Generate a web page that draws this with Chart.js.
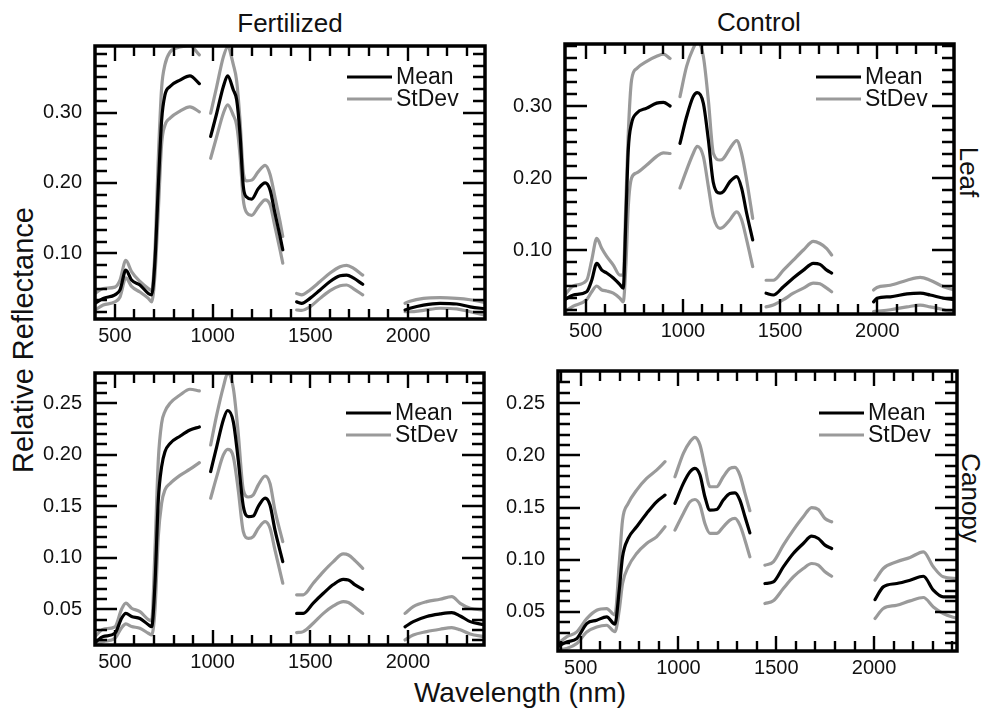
<!DOCTYPE html>
<html>
<head>
<meta charset="utf-8">
<title>Relative reflectance spectra</title>
<script src="https://cdn.jsdelivr.net/npm/chart.js@4.4.1/dist/chart.umd.min.js"></script>
<style>
  html, body { margin: 0; padding: 0; background: #fff; }
  body { width: 985px; height: 709px; position: relative; overflow: hidden;
         font-family: 'Liberation Sans', Arial, sans-serif; color: #111; }
  canvas { position: absolute; }
  .lbl { position: absolute; white-space: nowrap; line-height: 1; transform: translate(-50%, -50%); }
</style>
</head>
<body>
<div class="lbl" style="left:290px; top:23px; font-size:26px;">Fertilized</div>
<div class="lbl" style="left:759px; top:22px; font-size:26px;">Control</div>
<div class="lbl" style="left:969px; top:172px; font-size:26px; transform:translate(-50%,-50%) rotate(90deg);">Leaf</div>
<div class="lbl" style="left:971px; top:498px; font-size:26px; transform:translate(-50%,-50%) rotate(90deg);">Canopy</div>
<div class="lbl" style="left:23px; top:340px; font-size:29px; transform:translate(-50%,-50%) rotate(-90deg);">Relative Reflectance</div>
<div class="lbl" style="left:520px; top:693px; font-size:28px;">Wavelength (nm)</div>

<script>
// ---- tick labels ----
const xMajorTicks = [500, 1000, 1500, 2000];
const leafYTicks = [0.10, 0.20, 0.30];
const canopyYTicks = [0.05, 0.10, 0.15, 0.20, 0.25];

// ---- Fertilized / Leaf (null separates the measured bands) ----
const fertLeafWl = [398, 440, 500, 526, 556, 585, 628, 671, 688, 705, 722, 739, 756, 782, 833, 884, 932, null,
  990, 1021, 1055, 1077, 1106, 1123, 1140, 1157, 1174, 1200, 1234, 1269, 1294, 1319, 1345, 1359, null,
  1430, 1456, 1498, 1550, 1601, 1652, 1686, 1720, 1768, null,
  1985, 2010, 2079, 2164, 2249, 2318, 2400];
const fertLeafMean = [0.029, 0.036, 0.041, 0.048, 0.076, 0.062, 0.055, 0.043, 0.041, 0.090, 0.195, 0.289, 0.325, 0.337, 0.346, 0.352, 0.341, null,
  0.266, 0.299, 0.337, 0.352, 0.332, 0.318, 0.270, 0.195, 0.180, 0.177, 0.192, 0.200, 0.190, 0.157, 0.124, 0.105, null,
  0.031, 0.029, 0.036, 0.048, 0.060, 0.068, 0.069, 0.065, 0.056, null,
  0.0195, 0.022, 0.0265, 0.029, 0.028, 0.024, 0.021];
const fertLeafUpper = [0.043, 0.050, 0.052, 0.062, 0.090, 0.074, 0.060, 0.050, 0.047, 0.105, 0.235, 0.335, 0.368, 0.386, 0.393, 0.395, 0.382, null,
  0.299, 0.337, 0.379, 0.393, 0.368, 0.345, 0.290, 0.215, 0.203, 0.204, 0.216, 0.225, 0.212, 0.180, 0.145, 0.124, null,
  0.043, 0.041, 0.048, 0.060, 0.072, 0.081, 0.083, 0.079, 0.069, null,
  0.029, 0.032, 0.036, 0.037, 0.036, 0.034, 0.030];
const fertLeafLower = [0.0195, 0.0265, 0.031, 0.038, 0.065, 0.053, 0.045, 0.036, 0.031, 0.070, 0.160, 0.255, 0.282, 0.292, 0.302, 0.308, 0.301, null,
  0.235, 0.266, 0.299, 0.311, 0.296, 0.282, 0.240, 0.176, 0.158, 0.154, 0.166, 0.176, 0.169, 0.138, 0.105, 0.086, null,
  0.0195, 0.019, 0.024, 0.036, 0.047, 0.054, 0.055, 0.050, 0.041, null,
  0.017, 0.017, 0.019, 0.022, 0.021, 0.017, 0.012];

// ---- Control / Leaf ----
const ctrlLeafWl = [393, 436, 505, 531, 557, 583, 608, 642, 676, 693, 707, 719, 736, 762, 814, 865, 900, 934, null,
  985, 1019, 1053, 1074, 1105, 1131, 1157, 1191, 1208, 1242, 1277, 1302, 1328, 1359, null,
  1428, 1465, 1517, 1568, 1620, 1671, 1705, 1740, 1765, null,
  1981, 1998, 2067, 2153, 2221, 2272, 2341, 2395];
const ctrlLeafMean = [0.031, 0.0375, 0.042, 0.058, 0.0815, 0.072, 0.068, 0.061, 0.052, 0.047, 0.146, 0.239, 0.276, 0.290, 0.297, 0.304, 0.305, 0.300, null,
  0.248, 0.285, 0.313, 0.3185, 0.304, 0.253, 0.193, 0.179, 0.181, 0.195, 0.202, 0.186, 0.151, 0.114, null,
  0.040, 0.0375, 0.049, 0.061, 0.072, 0.0815, 0.080, 0.072, 0.068, null,
  0.028, 0.033, 0.035, 0.039, 0.040, 0.0375, 0.033, 0.031];
const ctrlLeafUpper = [0.0375, 0.050, 0.058, 0.086, 0.116, 0.102, 0.091, 0.079, 0.065, 0.065, 0.169, 0.262, 0.336, 0.352, 0.362, 0.369, 0.372, 0.366, null,
  0.313, 0.355, 0.380, 0.389, 0.369, 0.308, 0.234, 0.225, 0.227, 0.241, 0.252, 0.234, 0.197, 0.144, null,
  0.058, 0.058, 0.072, 0.086, 0.100, 0.112, 0.109, 0.102, 0.093, null,
  0.0445, 0.048, 0.051, 0.058, 0.062, 0.058, 0.049, 0.0445];
const ctrlLeafLower = [0.0145, 0.022, 0.031, 0.042, 0.050, 0.0445, 0.043, 0.040, 0.033, 0.028, 0.080, 0.160, 0.200, 0.207, 0.218, 0.230, 0.235, 0.234, null,
  0.186, 0.211, 0.234, 0.244, 0.230, 0.188, 0.146, 0.130, 0.132, 0.142, 0.153, 0.142, 0.114, 0.077, null,
  0.021, 0.0235, 0.031, 0.040, 0.047, 0.054, 0.053, 0.047, 0.042, null,
  0.0145, 0.015, 0.017, 0.021, 0.0235, 0.021, 0.017, 0.012];

// ---- Fertilized / Canopy ----
const fertCanopyWl = [398, 440, 500, 534, 556, 585, 628, 671, 688, 705, 722, 739, 756, 782, 833, 884, 932, null,
  990, 1021, 1055, 1077, 1106, 1131, 1157, 1183, 1208, 1234, 1269, 1294, 1319, 1359, null,
  1430, 1464, 1515, 1567, 1618, 1669, 1695, 1729, 1768, null,
  1985, 2027, 2096, 2164, 2224, 2267, 2318, 2390];
const fertCanopyMean = [0.0176, 0.0235, 0.0267, 0.0413, 0.046, 0.043, 0.041, 0.035, 0.033, 0.075, 0.156, 0.1885, 0.203, 0.211, 0.218, 0.224, 0.227, null,
  0.1837, 0.208, 0.234, 0.243, 0.232, 0.195, 0.150, 0.140, 0.1406, 0.150, 0.158, 0.151, 0.127, 0.0963, null,
  0.046, 0.046, 0.056, 0.0655, 0.074, 0.079, 0.0785, 0.0736, 0.0694, null,
  0.033, 0.038, 0.043, 0.0455, 0.0468, 0.0435, 0.038, 0.035];
const fertCanopyUpper = [0.0235, 0.0306, 0.033, 0.050, 0.056, 0.051, 0.0477, 0.040, 0.039, 0.108, 0.195, 0.2306, 0.242, 0.250, 0.258, 0.2636, 0.262, null,
  0.2095, 0.2387, 0.266, 0.279, 0.2646, 0.221, 0.166, 0.159, 0.161, 0.1707, 0.1794, 0.172, 0.146, 0.1157, null,
  0.064, 0.064, 0.0753, 0.0866, 0.0963, 0.1037, 0.1027, 0.0972, 0.0898, null,
  0.046, 0.0526, 0.0574, 0.0597, 0.0623, 0.0558, 0.051, 0.0494];
const fertCanopyLower = [0.0154, 0.0186, 0.0218, 0.032, 0.0358, 0.0333, 0.0316, 0.0267, 0.025, 0.0494, 0.1206, 0.153, 0.1659, 0.172, 0.180, 0.186, 0.1924, null,
  0.1578, 0.1788, 0.1998, 0.2053, 0.198, 0.166, 0.1254, 0.1189, 0.1206, 0.1286, 0.135, 0.1286, 0.1076, 0.0753, null,
  0.0273, 0.0283, 0.0364, 0.046, 0.0532, 0.0574, 0.0565, 0.052, 0.046, null,
  0.0202, 0.025, 0.0283, 0.0306, 0.0322, 0.030, 0.026, 0.0235];

// ---- Control / Canopy ----
const ctrlCanopyWl = [384, 428, 480, 531, 582, 633, 675, 697, 714, 743, 786, 837, 888, 931, null,
  982, 1025, 1059, 1084, 1110, 1135, 1161, 1195, 1229, 1263, 1289, 1314, 1340, 1365, null,
  1442, 1485, 1536, 1587, 1638, 1681, 1715, 1749, 1783, null,
  2005, 2047, 2116, 2184, 2252, 2303, 2354, 2424];
const ctrlCanopyMean = [0.017, 0.0212, 0.0244, 0.0388, 0.042, 0.0452, 0.0382, 0.0708, 0.1028, 0.1204, 0.1316, 0.1444, 0.1556, 0.162, null,
  0.154, 0.1732, 0.1844, 0.1876, 0.1812, 0.1604, 0.1476, 0.1482, 0.1572, 0.1636, 0.1642, 0.1572, 0.1412, 0.1258, null,
  0.0772, 0.0788, 0.0932, 0.106, 0.1156, 0.1226, 0.1204, 0.114, 0.1108, null,
  0.0618, 0.074, 0.0772, 0.0804, 0.0842, 0.0708, 0.0644, 0.0644];
const ctrlCanopyUpper = [0.0196, 0.026, 0.0308, 0.0436, 0.0516, 0.0532, 0.047, 0.0964, 0.138, 0.154, 0.1668, 0.178, 0.186, 0.194, null,
  0.1796, 0.202, 0.2132, 0.2174, 0.21, 0.1892, 0.17, 0.17, 0.1796, 0.1876, 0.1886, 0.1812, 0.1636, 0.147, null,
  0.0948, 0.098, 0.114, 0.1284, 0.1412, 0.150, 0.1482, 0.1396, 0.1364, null,
  0.0804, 0.0916, 0.098, 0.1022, 0.1076, 0.0932, 0.0836, 0.082];
const ctrlCanopyLower = [0.0132, 0.0148, 0.0196, 0.0308, 0.0356, 0.0372, 0.031, 0.0516, 0.0772, 0.0932, 0.106, 0.1156, 0.122, 0.1316, null,
  0.1284, 0.1444, 0.1556, 0.1578, 0.1524, 0.1348, 0.1252, 0.1252, 0.1316, 0.138, 0.1396, 0.1332, 0.1188, 0.1028, null,
  0.058, 0.0606, 0.0724, 0.0836, 0.0916, 0.0964, 0.0948, 0.0884, 0.0842, null,
  0.0436, 0.0532, 0.0564, 0.0606, 0.0638, 0.0548, 0.0484, 0.0436];

// ---- panel layout (page pixels of each plot frame) and axis ranges ----
const panels = [
  { area: [95, 46, 485, 319],  xRange: [398, 2394],   yRange: [0.0067, 0.3945], yTicks: leafYTicks,   yMinorStep: 0.1 / 6, legendTop: 31,
    wl: fertLeafWl, mean: fertLeafMean, upper: fertLeafUpper, lower: fertLeafLower },
  { area: [565, 44, 954, 314], xRange: [393.5, 2394.6], yRange: [0.0111, 0.3861], yTicks: leafYTicks, yMinorStep: 0.1 / 6, legendTop: 33,
    wl: ctrlLeafWl, mean: ctrlLeafMean, upper: ctrlLeafUpper, lower: ctrlLeafLower },
  { area: [95, 373, 484, 645], xRange: [398, 2389],   yRange: [0.0153, 0.2794], yTicks: canopyYTicks, yMinorStep: 0.01, legendTop: 40,
    wl: fertCanopyWl, mean: fertCanopyMean, upper: fertCanopyUpper, lower: fertCanopyLower },
  { area: [558, 371, 957, 651], xRange: [384, 2424],  yRange: [0.0125, 0.2810], yTicks: canopyYTicks, yMinorStep: 0.01, legendTop: 42,
    wl: ctrlCanopyWl, mean: ctrlCanopyMean, upper: ctrlCanopyUpper, lower: ctrlCanopyLower }
];

const MEAN_COLOR = '#000000';
const SD_COLOR = '#9a9a9a';
const FONT = "'Liberation Sans', Arial, sans-serif";
Chart.defaults.font.family = FONT;
Chart.defaults.color = '#111';

// evenly spaced minor tick positions between the axis limits
function minorTicks(min, max, step) {
  const out = [];
  const start = Math.ceil(min / step - 1e-6);
  for (let k = start; k * step <= max + 1e-9; k++) out.push(k * step);
  return out;
}

// boxed frame with inward ticks on all four sides, plus the in-plot legend
const frameTicks = {
  id: 'frameTicks',
  afterDatasetsDraw(chart, args, opts) {
    const { ctx, chartArea: a } = chart;
    const xs = chart.scales.x, ys = chart.scales.y;
    ctx.save();
    ctx.strokeStyle = '#000';
    ctx.lineWidth = 2.4;
    ctx.lineCap = 'butt';
    ctx.beginPath();
    const xTicks = opts.xMinor.map(v => [v, 10]).concat(xMajorTicks.map(v => [v, 15]));
    xTicks.forEach(([v, len]) => {
      const p = Math.round(xs.getPixelForValue(v));
      if (p <= a.left + 1 || p >= a.right - 1) return;
      ctx.moveTo(p, a.bottom); ctx.lineTo(p, a.bottom - len);
      ctx.moveTo(p, a.top); ctx.lineTo(p, a.top + len);
    });
    const yTicks = opts.yMinor.map(v => [v, 12]).concat(opts.yMajor.map(v => [v, 22]));
    yTicks.forEach(([v, len]) => {
      const p = Math.round(ys.getPixelForValue(v));
      if (p <= a.top + 1 || p >= a.bottom - 1) return;
      ctx.moveTo(a.left, p); ctx.lineTo(a.left + len, p);
      ctx.moveTo(a.right, p); ctx.lineTo(a.right - len, p);
    });
    ctx.stroke();
    ctx.lineWidth = 3.5;
    ctx.strokeRect(a.left, a.top, a.right - a.left, a.bottom - a.top);

    // legend: one entry per series that is flagged for it
    const entries = chart.data.datasets.filter(d => d.showInLegend);
    ctx.font = '23px ' + FONT;
    ctx.textBaseline = 'middle';
    ctx.textAlign = 'left';
    entries.forEach((d, i) => {
      const yy = a.top + opts.legendTop + i * 22;
      ctx.strokeStyle = d.borderColor;
      ctx.lineWidth = 3;
      ctx.beginPath();
      ctx.moveTo(a.right - 138, yy);
      ctx.lineTo(a.right - 93, yy);
      ctx.stroke();
      ctx.fillStyle = '#111';
      ctx.fillText(d.label, a.right - 89, yy + 1);
    });
    ctx.restore();
  }
};

const OUT = { l: 75, t: 40, r: 15, b: 40 };
const Y_AXIS_W = 58, X_AXIS_H = 30;

panels.forEach(p => {
  const [L, T, R, B] = p.area;
  const w = R - L + OUT.l + OUT.r;
  const h = B - T + OUT.t + OUT.b;
  const cv = document.createElement('canvas');
  cv.width = w; cv.height = h;
  cv.style.left = (L - OUT.l) + 'px';
  cv.style.top = (T - OUT.t) + 'px';
  cv.style.width = w + 'px';
  cv.style.height = h + 'px';
  document.body.appendChild(cv);

  const series = (vals) => p.wl.map((x, i) => ({ x: x, y: vals[i] }));
  const lineStyle = { pointRadius: 0, borderWidth: 3.2, cubicInterpolationMode: 'monotone',
                      borderJoinStyle: 'round', borderCapStyle: 'round', spanGaps: false, fill: false };

  new Chart(cv, {
    type: 'line',
    data: {
      datasets: [
        Object.assign({ label: 'Mean', data: series(p.mean), borderColor: MEAN_COLOR, showInLegend: true }, lineStyle),
        Object.assign({ label: 'StDev', data: series(p.upper), borderColor: SD_COLOR, showInLegend: true }, lineStyle),
        Object.assign({ label: 'StDev', data: series(p.lower), borderColor: SD_COLOR, showInLegend: false }, lineStyle)
      ]
    },
    options: {
      responsive: false,
      animation: false,
      devicePixelRatio: 1,
      events: [],
      layout: { padding: { left: OUT.l - Y_AXIS_W, top: OUT.t, right: OUT.r, bottom: OUT.b - X_AXIS_H } },
      plugins: {
        legend: { display: false },
        tooltip: { enabled: false },
        frameTicks: {
          xMinor: minorTicks(p.xRange[0], p.xRange[1], 100).filter(v => v % 500 !== 0),
          yMajor: p.yTicks,
          yMinor: minorTicks(p.yRange[0], p.yRange[1], p.yMinorStep),
          legendTop: p.legendTop
        }
      },
      scales: {
        x: {
          type: 'linear', position: 'bottom', min: p.xRange[0], max: p.xRange[1],
          grid: { display: false, drawTicks: false }, border: { display: false },
          afterBuildTicks: s => { s.ticks = xMajorTicks.map(v => ({ value: v })); },
          afterFit: s => { s.height = X_AXIS_H; },
          ticks: { padding: 5, font: { size: 20 }, color: '#111', maxRotation: 0, autoSkip: false,
                   callback: v => String(v) }
        },
        y: {
          type: 'linear', position: 'left', min: p.yRange[0], max: p.yRange[1],
          grid: { display: false, drawTicks: false }, border: { display: false },
          afterBuildTicks: s => { s.ticks = p.yTicks.map(v => ({ value: v })); },
          afterFit: s => { s.width = Y_AXIS_W; },
          ticks: { padding: 13, font: { size: 20 }, color: '#111', autoSkip: false,
                   callback: v => Number(v).toFixed(2) }
        }
      }
    },
    plugins: [frameTicks]
  });
});
</script>
</body>
</html>
